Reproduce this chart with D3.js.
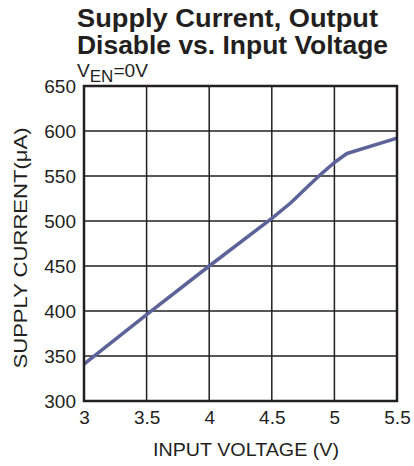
<!DOCTYPE html>
<html><head><meta charset="utf-8">
<script src="https://cdn.jsdelivr.net/npm/d3@7/dist/d3.min.js"></script>
<style>body{margin:0;background:#fff;} svg{display:block;} text{font-family:"Liberation Sans",Arial,sans-serif;fill:#231f20;}</style>
</head><body><svg id="c" width="414" height="466"></svg>
<script>
const voltage = [3, 3.5, 4, 4.5, 4.65, 4.8, 4.9, 5.0, 5.1, 5.5];
const current = [341, 396, 450, 503, 520, 540, 553, 565, 575, 592];
const xTicks = [3, 3.5, 4, 4.5, 5, 5.5];
const yTicks = [300, 350, 400, 450, 500, 550, 600, 650];

const svg = d3.select("#c");
const L = 84, R = 397, T = 86, B = 401;
const x = d3.scaleLinear().domain([3, 5.5]).range([L, R]);
const y = d3.scaleLinear().domain([300, 650]).range([B, T]);
const FF = '"Liberation Sans",Arial,sans-serif';

// grid
svg.append("g").selectAll("line").data(xTicks.slice(1, -1)).join("line")
  .attr("x1", d => x(d)).attr("x2", d => x(d)).attr("y1", T).attr("y2", B)
  .attr("stroke", "#231f20").attr("stroke-width", 1.5);
svg.append("g").selectAll("line").data(yTicks.slice(1, -1)).join("line")
  .attr("y1", d => y(d)).attr("y2", d => y(d)).attr("x1", L).attr("x2", R)
  .attr("stroke", "#231f20").attr("stroke-width", 1.5);

// line
svg.append("path").datum(voltage.map((v, i) => [v, current[i]]))
  .attr("d", d3.line().x(d => x(d[0])).y(d => y(d[1])))
  .attr("fill", "none").attr("stroke", "#5b6399").attr("stroke-width", 3.5)
  .attr("stroke-linejoin", "round");

// frame
svg.append("rect").attr("x", L).attr("y", T).attr("width", R - L).attr("height", B - T)
  .attr("fill", "none").attr("stroke", "#231f20").attr("stroke-width", 2.5);

// axes tick labels
const xAxis = d3.axisBottom(x).tickValues(xTicks).tickSize(0).tickPadding(10).tickFormat(d3.format("~g"));
const gx = svg.append("g").attr("transform", `translate(0,${B})`).call(xAxis);
gx.select(".domain").remove();
gx.selectAll("text").attr("font-size", 19).attr("font-family", FF).attr("fill", "#231f20").attr("dy", null).attr("y", 23);

const yAxis = d3.axisLeft(y).tickValues(yTicks).tickSize(0).tickPadding(8);
const gy = svg.append("g").attr("transform", `translate(${L},0)`).call(yAxis);
gy.select(".domain").remove();
gy.selectAll("text").attr("font-size", 19).attr("font-family", FF).attr("fill", "#231f20").attr("dy", "0.35em");

// titles
svg.append("text").attr("x", 77).attr("y", 27).attr("font-size", 25.7).attr("font-weight", "bold")
  .attr("textLength", 301).attr("lengthAdjust", "spacingAndGlyphs").text("Supply Current, Output");
svg.append("text").attr("x", 77).attr("y", 53.5).attr("font-size", 25.7).attr("font-weight", "bold")
  .attr("textLength", 311).attr("lengthAdjust", "spacingAndGlyphs").text("Disable vs. Input Voltage");
const ven = svg.append("text").attr("x", 77).attr("y", 76.5).attr("font-size", 18)
  .attr("textLength", 71).attr("lengthAdjust", "spacingAndGlyphs");
ven.append("tspan").text("V");
ven.append("tspan").attr("dy", 5).attr("font-size", 16).text("EN");
ven.append("tspan").attr("dy", -5).text("=0V");

svg.append("text").attr("x", 246).attr("y", 456).attr("text-anchor", "middle").attr("font-size", 18.5)
  .attr("textLength", 186).attr("lengthAdjust", "spacingAndGlyphs").text("INPUT VOLTAGE (V)");
svg.append("text").attr("transform", `translate(27,248) rotate(-90)`).attr("text-anchor", "middle").attr("font-size", 18.5)
  .attr("textLength", 241).attr("lengthAdjust", "spacingAndGlyphs").text("SUPPLY CURRENT(μA)");
</script></body></html>
